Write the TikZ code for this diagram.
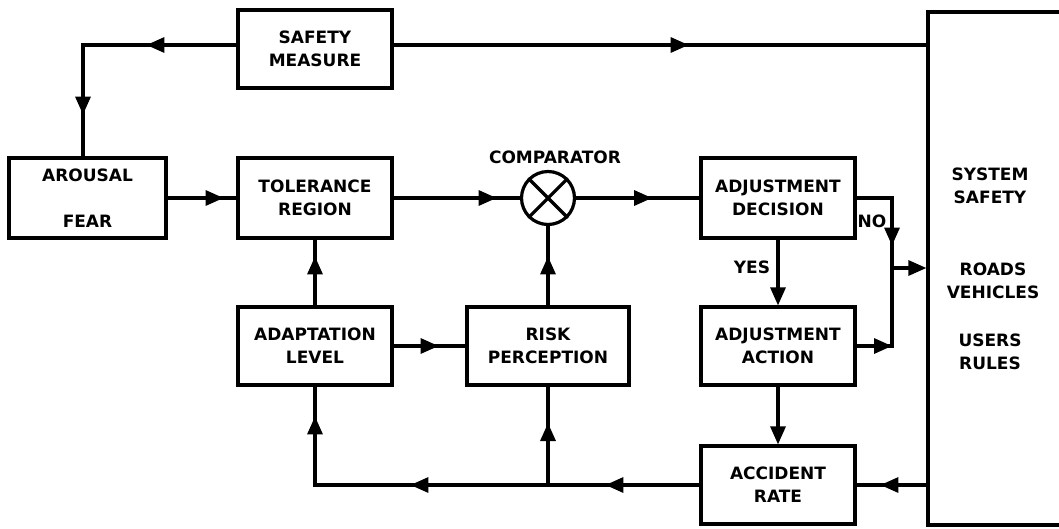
\documentclass[tikz,border=0pt]{standalone}
\usepackage{fontspec}
\setmainfont{DejaVu Sans}
\usetikzlibrary{arrows.meta,decorations.markings}
\tikzset{tri/.tip={Triangle[length=18pt,width=15pt]}}
\begin{document}
\begin{tikzpicture}[x=1pt,y=-1pt,
  line width=3.2pt,
  txt/.style={font=\bfseries\fontsize{17}{23}\selectfont, align=center, inner sep=0pt},
  box/.style={txt, draw, line width=3.2pt, minimum width=154pt, minimum height=78pt},
  arrat/.style={postaction={decorate,decoration={markings,mark=at position #1 with {\arrow{tri}}}}},
  endarr/.style={-{tri}},
]
\useasboundingbox (0,0) rectangle (1059,528);
\clip (0,0) rectangle (1059,528);

% nodes
\node[box] (sm) at (315,49) {SAFETY\\MEASURE};
\node[box, minimum width=157pt, minimum height=80pt] (ar) at (87.5,198) {AROUSAL\\[23pt]FEAR};
\node[box, minimum height=80pt] (tr) at (315,198) {TOLERANCE\\REGION};
\node[draw, circle, minimum size=53pt, inner sep=0pt] (cmp) at (548,198) {};
\node[txt] (cmplbl) at (555,157) {COMPARATOR};
\node[box, minimum height=80pt] (dec) at (778,198) {ADJUSTMENT\\DECISION};
\node[box] (al) at (315,346) {ADAPTATION\\LEVEL};
\node[box, minimum width=162pt] (rp) at (548,346) {RISK\\PERCEPTION};
\node[box] (act) at (778,346) {ADJUSTMENT\\ACTION};
\node[box] (acc) at (778,485) {ACCIDENT\\RATE};
\node[draw, line width=3.2pt, minimum width=152pt, minimum height=513pt, inner sep=0pt] (sys) at (1004,268.5) {};
\node[txt] (sys1) at (990,186) {SYSTEM\\SAFETY};
\node[txt] (sys2) at (993,281) {ROADS\\VEHICLES};
\node[txt] (sys3) at (990,352) {USERS\\RULES};
\node[txt] (no) at (872,221) {NO};
\node[txt] (yes) at (752,267) {YES};

% comparator cross
\draw (cmp.45) -- (cmp.225);
\draw (cmp.135) -- (cmp.-45);

% coordinates
\coordinate (j) at (892,268);
\coordinate (k) at (rp.south |- acc.west);

% connectors
\draw[arrat=90pt, arrat=223pt] ([yshift=4pt]sm.west) -| ([xshift=-4.5pt]ar.north);
\draw[arrat=295pt] ([yshift=4pt]sm.east) -- ([yshift=4pt]sm.east -| sys.west);
\draw[arrat=56pt] (ar.east) -- (tr.west);
\draw[arrat=103pt] (tr.east) -- (cmp.west);
\draw[arrat=76pt] (cmp.east) -- (dec.west);
\draw[arrat=83pt] (dec.east) -| (j);
\draw (act.east) -| (j);
\draw[endarr] (act.east) -- (act.east -| j);
\draw[endarr] (j) -- (j -| sys.west);
\draw[endarr] (dec.south) -- (act.north);
\draw[endarr] (act.south) -- (acc.north);
\draw[arrat=46pt] (sys.west |- acc.east) -- (acc.east);
\draw[arrat=94pt, arrat=289pt, arrat=453pt] (acc.west) -| (al.south);
\draw[arrat=62pt] (k) -- (rp.south);
\draw[arrat=49pt] (al.north) -- (tr.south);
\draw[arrat=49pt] (rp.north) -- (cmp.south);
\draw[arrat=45pt] (al.east) -- (rp.west);
\end{tikzpicture}
\end{document}
